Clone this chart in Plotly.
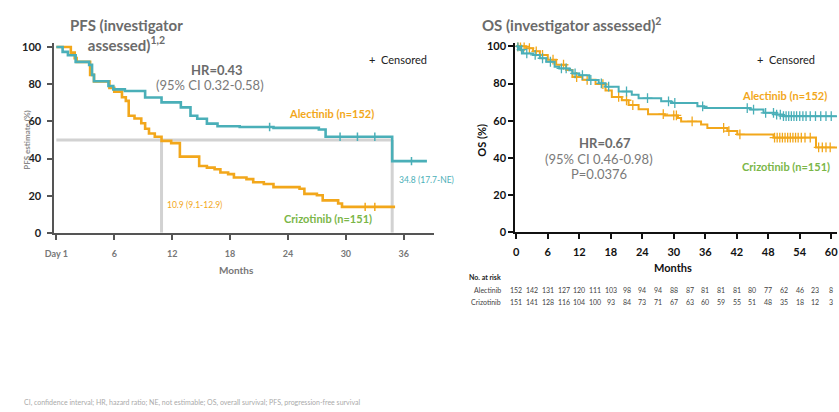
import numpy as np
import plotly.graph_objects as go

W, H = 839, 412
FONT = "Lato"
TEAL = "#4AAFB8"
ORANGE = "#F2A71B"
GREEN = "#7AB648"
GRAY = "#6b6b6b"

# ---------------- PFS data ----------------
pfs_alec_t = [0, 0.65, 1.2, 2.0, 3.4, 3.7, 3.9, 5.4, 5.9, 7.1, 9.2, 10.9, 12.9, 13.9, 14.6, 15.6, 16.7, 19.0, 22.5, 27.2, 27.9, 34.8, 38.4]
pfs_alec_s = [100, 97.4, 95.6, 92, 90.4, 85, 81.6, 79, 77.2, 76.3, 72.8, 70.2, 67.5, 63, 61.4, 58.8, 57.4, 57, 56.5, 55.6, 51.7, 38.6, 38.6]
pfs_alec_cens = [22.1, 29.4, 31.2, 33.0, 36.8]

pfs_criz_t = [0, 1.5, 1.9, 2.1, 3.5, 3.9, 5.5, 6.0, 6.8, 7.2, 7.5, 8.1, 8.8, 9.2, 9.6, 10.2, 10.9, 11.9, 12.8, 14.8, 15.6, 16.4, 17.0, 17.8, 18.4, 19.7, 20.4, 21.5, 22.5, 25.2, 25.7, 27.0, 27.6, 29.2, 29.6, 35.1]
pfs_criz_s = [100, 97, 94, 92, 85, 81.5, 78, 76, 73, 71, 63, 61.5, 59, 56, 53.5, 51.7, 49.5, 48.3, 41, 36, 35.1, 34.2, 32.5, 31.6, 29.8, 28.9, 27.2, 26.3, 24.6, 23.7, 21, 20.2, 17.5, 15.8, 14, 14]
pfs_criz_cens = [32.0, 33.0]

pfs_median_criz = 10.9
pfs_median_alec = 34.8

# ---------------- OS data ----------------
os_alec_t = [0, 0.4, 0.7, 1.3, 3.2, 4.5, 5.7, 7.3, 8.2, 10.1, 10.7, 12.0, 13.9, 15.7, 17.0, 19.5, 22.0, 23.3, 27.6, 29.5, 34.5, 35.8, 44.6, 47.1, 49.6, 50.8, 61.1]
os_alec_s = [100, 99, 98.2, 96.2, 95.4, 93.6, 91.7, 89, 88.1, 87.2, 85.4, 84.5, 81.9, 80.1, 78.3, 75.7, 73.9, 72.1, 70.4, 69.5, 67.7, 66.8, 66, 64.2, 63.3, 62.4, 62.4]
os_alec_cens = [0.3, 1.0, 2.0, 3.6, 5.0, 6.5, 8.6, 9.5, 11.2, 12.6, 14.2, 16.2, 17.6, 21.0, 25.0, 29.0, 30.2, 35.5, 44.0, 45.2, 47.5, 49.0, 49.6, 50.3, 50.9, 51.4, 51.9, 52.4, 52.9, 53.4, 54.0, 54.6, 55.2, 56.0, 57.0, 58.0, 59.0, 60.0]

os_criz_t = [0, 1.9, 3.2, 4.5, 6.0, 7.6, 9.5, 10.7, 12.6, 15.1, 17.0, 18.2, 20.1, 21.4, 23.3, 25.1, 28.3, 30.8, 31.4, 35.2, 36.4, 40.2, 42.1, 49.0, 57.1, 61.1]
os_criz_s = [100, 99, 97.3, 95.4, 92.8, 90.1, 87.3, 83.5, 82, 79.7, 76.3, 72.8, 71, 68.4, 66.2, 63.5, 62.8, 61.4, 59.6, 57.9, 56.1, 54.4, 52.6, 50.9, 45.6, 45.6]
os_criz_cens = [0.3, 0.8, 1.5, 2.5, 3.8, 5.0, 7.0, 9.0, 11.5, 13.5, 16.5, 19.5, 21.0, 22.2, 28.0, 30.0, 30.5, 33.5, 39.5, 40.5, 42.6, 49.2, 49.7, 50.2, 50.7, 51.2, 51.7, 52.2, 52.7, 53.2, 53.7, 54.3, 55.0, 56.0, 57.6, 58.3, 59.0, 59.8]

pfs_xticks = [0, 6, 12, 18, 24, 30, 36]
pfs_xlabels = ["Day 1", "6", "12", "18", "24", "30", "36"]
yticks = [0, 20, 40, 60, 80, 100]
os_xticks = [0, 6, 12, 18, 24, 30, 36, 42, 48, 54, 60]

risk_months = list(range(0, 61, 3))
risk_alec = [152, 142, 131, 127, 120, 111, 103, 98, 94, 94, 88, 87, 81, 81, 81, 80, 77, 62, 46, 23, 8]
risk_criz = [151, 141, 128, 116, 104, 100, 93, 84, 73, 71, 67, 63, 60, 59, 55, 51, 48, 35, 18, 12, 3]


def px(x):
    return x / W


def py(y):
    return 1 - y / H


def step_at(ts, ss, times):
    ts = np.asarray(ts)
    ss = np.asarray(ss)
    idx = np.searchsorted(ts, times, side="right") - 1
    return ss[np.clip(idx, 0, len(ss) - 1)]


fig = go.Figure()

# reference lines (PFS medians)
ref = dict(color="#d2d2d2", width=3)
fig.add_trace(go.Scatter(x=[0, pfs_median_alec], y=[50, 50], mode="lines", line=ref, xaxis="x", yaxis="y", hoverinfo="skip"))
fig.add_trace(go.Scatter(x=[pfs_median_criz, pfs_median_criz], y=[50, 0], mode="lines", line=ref, xaxis="x", yaxis="y", hoverinfo="skip"))
fig.add_trace(go.Scatter(x=[pfs_median_alec, pfs_median_alec], y=[50, 0], mode="lines", line=ref, xaxis="x", yaxis="y", hoverinfo="skip"))

# PFS curves
for t, s, c, col in [(pfs_criz_t, pfs_criz_s, pfs_criz_cens, ORANGE), (pfs_alec_t, pfs_alec_s, pfs_alec_cens, TEAL)]:
    fig.add_trace(go.Scatter(x=t, y=s, mode="lines", line=dict(color=col, width=2.6, shape="hv"), xaxis="x", yaxis="y"))
    fig.add_trace(go.Scatter(x=c, y=step_at(t, s, c), mode="markers",
                             marker=dict(symbol="line-ns-open", size=6, color=col, line=dict(color=col, width=1.5)),
                             xaxis="x", yaxis="y"))

# OS curves
for t, s, c, col in [(os_criz_t, os_criz_s, os_criz_cens, ORANGE), (os_alec_t, os_alec_s, os_alec_cens, TEAL)]:
    fig.add_trace(go.Scatter(x=t, y=s, mode="lines", line=dict(color=col, width=2, shape="hv"), xaxis="x2", yaxis="y2"))
    fig.add_trace(go.Scatter(x=c, y=step_at(t, s, c), mode="markers",
                             marker=dict(symbol="cross-thin-open", size=7, color=col, line=dict(color=col, width=1.3)),
                             xaxis="x2", yaxis="y2"))

ann = []


def A(text, x, y, size, color, xanchor="center", yanchor="middle", xref="paper", angle=0, align="center"):
    ann.append(dict(text=text, x=x, y=y, xref=xref, yref="paper", showarrow=False,
                    font=dict(family=FONT, size=size, color=color), xanchor=xanchor, yanchor=yanchor,
                    textangle=angle, align=align))


# PFS texts
A("<b>PFS (investigator<br>assessed)<sup>1,2</sup></b>", px(118), py(33), 15, GRAY)
A("+  Censored", px(362), py(58), 11, "#222", xanchor="left")
A("<b>HR=0.43</b>", px(210), py(69), 13, GRAY)
A("(95% CI 0.32-0.58)", px(203), py(84), 13, "#7a7a7a")
A("<b>Alectinib (n=152)</b>", px(281), py(113), 11, ORANGE, xanchor="left")
A("10.9 (9.1-12.9)", px(157), py(206), 8.5, ORANGE, xanchor="left")
A("<b>Crizotinib (n=151)</b>", px(276), py(220), 11, GREEN, xanchor="left")
A("34.8 (17.7-NE)", px(392), py(181), 8.5, TEAL, xanchor="left")
A("<b>PFS estimate (%)</b>", px(17), py(140), 8, "#888", angle=-90)
A("<b>Months</b>", px(230), py(273), 10, "#777")

# OS texts
A("<b>OS (investigator assessed)<sup>2</sup></b>", px(476), py(22), 15, GRAY, xanchor="left")
A("+  Censored", px(755), py(58), 11, "#222", xanchor="left")
A("<b>Alectinib (n=152)</b>", px(740), py(95), 11, ORANGE, xanchor="left")
A("<b>Crizotinib (n=151)</b>", px(740), py(167), 11, GREEN, xanchor="left")
A("<b>HR=0.67</b>", px(603), py(143), 13, GRAY)
A("(95% CI 0.46-0.98)", px(597), py(159), 13, "#7a7a7a")
A("P=0.0376", px(597), py(175), 13, "#7a7a7a")
A("<b>OS (%)</b>", px(478), py(140), 11, "#111", angle=-90)
A("<b>Months</b>", px(672), py(270), 11, "#111")

# at-risk table
A("<b>No. at risk</b>", px(463), py(280), 7, "#222", xanchor="left")
A("Alectinib", px(500), py(293), 7, "#444", xanchor="right")
A("Crizotinib", px(500), py(306), 7, "#444", xanchor="right")
for m, a, c in zip(risk_months, risk_alec, risk_criz):
    A(str(a), m, py(293), 7, "#444", xref="x2")
    A(str(c), m, py(306), 7, "#444", xref="x2")

# footer
A("CI, confidence interval; HR, hazard ratio; NE, not estimable; OS, overall survival; PFS, progression-free survival",
  px(12), py(408), 7, "#aaaaaa", xanchor="left")

axis_common = dict(showgrid=False, zeroline=False, ticks="outside", ticklen=5, tickwidth=2, fixedrange=True,
                   ticklabeloverflow="allow")

fig.update_layout(
    width=W, height=H,
    margin=dict(l=0, r=0, t=0, b=0),
    paper_bgcolor="white", plot_bgcolor="white",
    showlegend=False,
    font=dict(family=FONT),
    xaxis=dict(domain=[px(45), px(430)], range=[-0.2, 39.17], anchor="y",
               tickvals=pfs_xticks, ticktext=["<b>%s</b>" % t for t in pfs_xlabels],
               tickfont=dict(size=9, color="#777"), showline=True, linecolor="#555", linewidth=2,
               tickcolor="#555", ticklabelstandoff=6, **axis_common),
    yaxis=dict(domain=[py(235), py(41.2)], range=[0, 102], anchor="x",
               tickvals=yticks, ticktext=["<b>%d</b>" % v for v in yticks],
               tickfont=dict(size=11, color="#222"), showline=True, linecolor="#555", linewidth=2,
               tickcolor="#555", ticklabelstandoff=4, **axis_common),
    xaxis2=dict(domain=[px(512), px(838)], range=[-0.19, 61.1], anchor="y2",
                tickvals=os_xticks, ticktext=["<b>%d</b>" % v for v in os_xticks],
                tickfont=dict(size=11, color="#111"), showline=True, linecolor="#111", linewidth=2,
                tickcolor="#111", ticklabelstandoff=4, **axis_common),
    yaxis2=dict(domain=[py(234.3), py(40.5)], range=[0, 102], anchor="x2",
                tickvals=yticks, ticktext=["<b>%d</b>" % v for v in yticks],
                tickfont=dict(size=11, color="#111"), showline=True, linecolor="#111", linewidth=2,
                tickcolor="#111", **axis_common),
    annotations=ann,
)

fig.write_html("out.html", config={"displayModeBar": False},
               post_script="document.body.style.margin='0';document.body.style.overflow='hidden';")
